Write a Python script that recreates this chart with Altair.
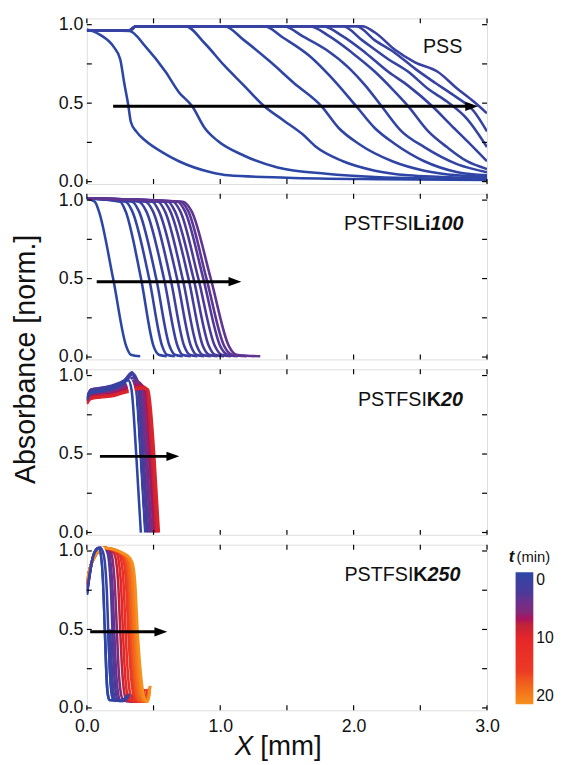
import altair as alt
import pandas as pd

# ---------------- data ----------------
# PSS panel: 11 profiles
pss_t = [0.0, 0.1, 0.2, 0.3, 0.4, 0.5, 0.6, 0.7, 0.8, 0.9, 1.0]
pss_x = [
    [0.0, 0.10, 0.20, 0.25, 0.28, 0.31, 0.33, 0.37, 0.44, 0.57, 0.69, 0.93, 1.06, 1.50, 2.20, 3.00],
    [0.0, 0.32, 0.44, 0.59, 0.69, 0.79, 0.885, 0.98, 1.18, 1.43, 1.795, 2.16, 3.0],
    [0.0, 0.32, 0.37, 0.74, 0.885, 1.03, 1.18, 1.33, 1.475, 1.62, 1.72, 1.92, 2.16, 2.41, 2.66, 3.0],
    [0.0, 0.32, 0.37, 1.03, 1.18, 1.38, 1.55, 1.76, 1.89, 2.04, 2.29, 2.53, 2.78, 3.0],
    [0.0, 0.32, 0.37, 1.33, 1.475, 1.67, 1.82, 2.02, 2.16, 2.31, 2.53, 2.78, 3.0],
    [0.0, 0.32, 0.37, 1.475, 1.62, 1.795, 1.97, 2.09, 2.21, 2.36, 2.53, 2.78, 3.0],
    [0.0, 0.32, 0.37, 1.67, 1.82, 1.99, 2.16, 2.29, 2.41, 2.56, 2.70, 2.85, 3.0],
    [0.0, 0.32, 0.37, 1.77, 1.92, 2.09, 2.26, 2.41, 2.59, 2.73, 2.85, 3.0],
    [0.0, 0.32, 0.37, 1.92, 2.065, 2.26, 2.41, 2.56, 2.70, 2.85, 3.0],
    [0.0, 0.32, 0.37, 2.02, 2.16, 2.31, 2.46, 2.61, 2.75, 2.90, 3.0],
    [0.0, 0.32, 0.37, 2.065, 2.16, 2.31, 2.46, 2.63, 2.78, 2.90, 3.0],
]
pss_y = [
    [0.97, 0.935, 0.86, 0.78, 0.63, 0.49, 0.38, 0.32, 0.26, 0.185, 0.13, 0.06, 0.04, 0.025, 0.015, 0.01],
    [0.965, 0.96, 0.86, 0.70, 0.57, 0.48, 0.34, 0.26, 0.165, 0.09, 0.05, 0.03, 0.015],
    [0.965, 0.965, 0.99, 0.99, 0.88, 0.74, 0.61, 0.48, 0.39, 0.30, 0.22, 0.13, 0.07, 0.04, 0.03, 0.02],
    [0.965, 0.965, 0.99, 0.99, 0.90, 0.76, 0.63, 0.48, 0.34, 0.24, 0.13, 0.07, 0.04, 0.03],
    [0.965, 0.965, 0.99, 0.99, 0.915, 0.80, 0.675, 0.48, 0.34, 0.24, 0.13, 0.06, 0.04],
    [0.965, 0.965, 0.99, 0.99, 0.925, 0.84, 0.72, 0.61, 0.48, 0.32, 0.22, 0.11, 0.06],
    [0.965, 0.965, 0.99, 0.99, 0.925, 0.82, 0.70, 0.59, 0.48, 0.32, 0.22, 0.13, 0.08],
    [0.965, 0.965, 0.99, 0.99, 0.925, 0.82, 0.70, 0.61, 0.48, 0.36, 0.26, 0.13],
    [0.965, 0.965, 0.99, 0.99, 0.90, 0.78, 0.70, 0.59, 0.51, 0.40, 0.22],
    [0.965, 0.965, 0.99, 0.99, 0.90, 0.82, 0.72, 0.63, 0.55, 0.45, 0.32],
    [0.965, 0.965, 0.99, 0.99, 0.95, 0.84, 0.76, 0.70, 0.59, 0.51, 0.435],
]

# PSTFSILi100 panel: 14 profiles (shared level list li_y)
li_t = [0.0, 0.3, 0.6, 0.9, 1.2, 1.5, 1.8, 2.1, 2.4, 2.7, 3.0, 3.3, 3.6, 3.9]
li_x = [
    [0.0, 0.06, 0.09, 0.197, 0.295, 0.33, 0.40],
    [0.0, 0.25, 0.29, 0.406, 0.50, 0.54, 0.60],
    [0.0, 0.29, 0.34, 0.467, 0.565, 0.60, 0.66],
    [0.0, 0.34, 0.39, 0.52, 0.62, 0.66, 0.72],
    [0.0, 0.39, 0.445, 0.578, 0.68, 0.715, 0.78],
    [0.0, 0.44, 0.495, 0.627, 0.73, 0.77, 0.83],
    [0.0, 0.49, 0.54, 0.676, 0.78, 0.82, 0.88],
    [0.0, 0.535, 0.585, 0.718, 0.825, 0.865, 0.93],
    [0.0, 0.575, 0.625, 0.762, 0.87, 0.915, 0.98],
    [0.0, 0.61, 0.66, 0.80, 0.915, 0.96, 1.03],
    [0.0, 0.645, 0.70, 0.836, 0.96, 1.01, 1.08],
    [0.0, 0.68, 0.735, 0.873, 1.00, 1.055, 1.13],
    [0.0, 0.70, 0.76, 0.897, 1.03, 1.09, 1.20],
    [0.0, 0.72, 0.785, 0.929, 1.065, 1.12, 1.30],
]
li_y = [1.01, 0.99, 0.93, 0.5, 0.07, 0.015, 0.005]

# PSTFSIK20 panel: 11 profiles
k20_t = [0, 1, 2, 3, 4, 5, 6, 7, 8, 9, 9.5]
k20_x = [
    [0.0, 0.03, 0.10, 0.20, 0.27, 0.31, 0.335, 0.37, 0.405],
    [0.0, 0.03, 0.10, 0.20, 0.28, 0.34, 0.365, 0.40, 0.435],
    [0.0, 0.03, 0.10, 0.20, 0.28, 0.35, 0.38, 0.415, 0.45],
    [0.0, 0.03, 0.10, 0.20, 0.28, 0.36, 0.39, 0.425, 0.46],
    [0.0, 0.03, 0.10, 0.20, 0.28, 0.37, 0.40, 0.44, 0.475],
    [0.0, 0.03, 0.10, 0.20, 0.28, 0.38, 0.415, 0.45, 0.485],
    [0.0, 0.03, 0.10, 0.20, 0.28, 0.39, 0.425, 0.465, 0.50],
    [0.0, 0.03, 0.10, 0.20, 0.28, 0.40, 0.435, 0.475, 0.51],
    [0.0, 0.03, 0.10, 0.20, 0.28, 0.41, 0.445, 0.485, 0.52],
    [0.0, 0.03, 0.10, 0.20, 0.28, 0.42, 0.455, 0.495, 0.53],
    [0.0, 0.03, 0.10, 0.20, 0.28, 0.43, 0.46, 0.505, 0.54],
]
k20_y = [
    [0.84, 0.89, 0.90, 0.92, 0.95, 0.97, 0.91, 0.5, 0.0],
    [0.85, 0.91, 0.92, 0.94, 0.97, 1.02, 0.95, 0.5, 0.0],
    [0.86, 0.91, 0.92, 0.93, 0.96, 1.01, 0.95, 0.5, 0.0],
    [0.85, 0.90, 0.91, 0.92, 0.95, 0.99, 0.94, 0.5, 0.0],
    [0.85, 0.89, 0.90, 0.91, 0.94, 0.97, 0.93, 0.5, 0.0],
    [0.84, 0.88, 0.89, 0.90, 0.93, 0.96, 0.93, 0.5, 0.0],
    [0.84, 0.87, 0.88, 0.89, 0.92, 0.95, 0.92, 0.5, 0.0],
    [0.83, 0.87, 0.875, 0.885, 0.91, 0.94, 0.92, 0.5, 0.0],
    [0.83, 0.86, 0.87, 0.88, 0.90, 0.93, 0.92, 0.5, 0.0],
    [0.82, 0.86, 0.865, 0.875, 0.895, 0.92, 0.91, 0.5, 0.0],
    [0.82, 0.85, 0.86, 0.87, 0.89, 0.92, 0.91, 0.5, 0.0],
]

# PSTFSIK250 panel: 16 profiles
k250_t = [0, 1, 2, 3, 4, 6, 8, 10, 12, 14, 15, 16, 17, 18, 19, 20]
k250_x = [
    [0.00, 0.02, 0.045, 0.07, 0.09, 0.105, 0.115, 0.125, 0.135, 0.145, 0.155, 0.17, 0.25, 0.285, 0.30],
    [0.00, 0.02, 0.045, 0.075, 0.10, 0.125, 0.138, 0.15, 0.16, 0.172, 0.185, 0.20, 0.27, 0.30, 0.315],
    [0.00, 0.02, 0.05, 0.08, 0.11, 0.14, 0.153, 0.165, 0.175, 0.187, 0.20, 0.215, 0.28, 0.31, 0.325],
    [0.00, 0.02, 0.05, 0.08, 0.11, 0.15, 0.166, 0.179, 0.19, 0.203, 0.217, 0.233, 0.30, 0.33, 0.345],
    [0.00, 0.02, 0.05, 0.085, 0.12, 0.165, 0.18, 0.193, 0.205, 0.218, 0.233, 0.25, 0.31, 0.34, 0.355],
    [0.00, 0.02, 0.05, 0.085, 0.12, 0.18, 0.198, 0.212, 0.225, 0.238, 0.254, 0.272, 0.33, 0.36, 0.375],
    [0.00, 0.02, 0.05, 0.09, 0.12, 0.20, 0.222, 0.237, 0.25, 0.264, 0.28, 0.298, 0.35, 0.38, 0.395],
    [0.00, 0.02, 0.05, 0.09, 0.12, 0.22, 0.242, 0.257, 0.27, 0.284, 0.30, 0.318, 0.37, 0.40, 0.415],
    [0.00, 0.02, 0.05, 0.09, 0.12, 0.235, 0.26, 0.276, 0.29, 0.305, 0.322, 0.34, 0.39, 0.42, 0.435],
    [0.00, 0.02, 0.05, 0.09, 0.12, 0.25, 0.278, 0.295, 0.31, 0.326, 0.343, 0.362, 0.41, 0.44, 0.455],
    [0.00, 0.02, 0.05, 0.09, 0.12, 0.258, 0.287, 0.305, 0.32, 0.337, 0.354, 0.374, 0.42, 0.448, 0.46],
    [0.00, 0.02, 0.05, 0.09, 0.12, 0.265, 0.296, 0.314, 0.33, 0.347, 0.365, 0.385, 0.43, 0.455, 0.465],
    [0.00, 0.02, 0.05, 0.09, 0.12, 0.275, 0.307, 0.326, 0.343, 0.36, 0.378, 0.398, 0.438, 0.46, 0.468],
    [0.00, 0.02, 0.05, 0.09, 0.12, 0.285, 0.318, 0.338, 0.355, 0.373, 0.392, 0.412, 0.445, 0.465, 0.472],
    [0.00, 0.02, 0.05, 0.09, 0.12, 0.295, 0.329, 0.35, 0.368, 0.387, 0.406, 0.426, 0.45, 0.466, 0.474],
    [0.00, 0.02, 0.05, 0.09, 0.12, 0.305, 0.34, 0.362, 0.38, 0.40, 0.42, 0.44, 0.455, 0.468, 0.475],
]
k250_y = [
    [0.72, 0.84, 0.96, 1.01, 1.02, 0.98, 0.90, 0.74, 0.50, 0.25, 0.10, 0.05, 0.045, 0.06, 0.08],
    [0.73, 0.85, 0.96, 1.01, 1.02, 0.98, 0.90, 0.74, 0.50, 0.25, 0.10, 0.05, 0.045, 0.06, 0.09],
    [0.74, 0.86, 0.96, 1.01, 1.02, 0.98, 0.90, 0.74, 0.50, 0.25, 0.10, 0.05, 0.045, 0.06, 0.09],
    [0.75, 0.86, 0.96, 1.01, 1.02, 0.99, 0.90, 0.74, 0.50, 0.25, 0.10, 0.05, 0.045, 0.06, 0.09],
    [0.76, 0.87, 0.96, 1.01, 1.02, 0.99, 0.91, 0.75, 0.50, 0.25, 0.10, 0.05, 0.045, 0.06, 0.09],
    [0.77, 0.87, 0.96, 1.00, 1.02, 0.99, 0.91, 0.75, 0.50, 0.25, 0.10, 0.05, 0.04, 0.06, 0.10],
    [0.78, 0.88, 0.96, 1.00, 1.02, 0.99, 0.92, 0.76, 0.50, 0.25, 0.10, 0.05, 0.04, 0.07, 0.11],
    [0.78, 0.88, 0.95, 1.00, 1.02, 0.99, 0.92, 0.77, 0.50, 0.25, 0.10, 0.05, 0.04, 0.07, 0.11],
    [0.79, 0.88, 0.95, 1.00, 1.02, 0.99, 0.93, 0.78, 0.50, 0.25, 0.10, 0.05, 0.04, 0.07, 0.12],
    [0.79, 0.88, 0.95, 1.00, 1.02, 0.98, 0.93, 0.78, 0.50, 0.26, 0.11, 0.05, 0.04, 0.07, 0.12],
    [0.79, 0.88, 0.95, 1.00, 1.02, 0.98, 0.93, 0.78, 0.50, 0.26, 0.11, 0.05, 0.04, 0.07, 0.12],
    [0.80, 0.88, 0.95, 1.00, 1.02, 0.98, 0.93, 0.79, 0.50, 0.26, 0.11, 0.05, 0.04, 0.07, 0.12],
    [0.80, 0.88, 0.95, 1.00, 1.02, 0.98, 0.93, 0.79, 0.50, 0.26, 0.11, 0.05, 0.04, 0.08, 0.13],
    [0.80, 0.88, 0.95, 1.00, 1.02, 0.98, 0.94, 0.80, 0.50, 0.26, 0.11, 0.06, 0.04, 0.08, 0.13],
    [0.80, 0.88, 0.95, 1.00, 1.02, 0.97, 0.93, 0.80, 0.50, 0.26, 0.11, 0.05, 0.04, 0.08, 0.14],
    [0.80, 0.88, 0.95, 1.00, 1.02, 0.97, 0.93, 0.80, 0.50, 0.26, 0.11, 0.05, 0.04, 0.08, 0.14],
]

# arrows (start, head position, level) per panel
arrow_start = [0.197, 0.074, 0.098, 0.025]
arrow_end = [2.885, 1.11, 0.645, 0.555]
arrow_y = [0.48, 0.48, 0.485, 0.485]

# axis ticks
x_ticks = [0.0, 0.5, 1.0, 1.5, 2.0, 2.5, 3.0]
y_ticks = [0.0, 0.25, 0.5, 0.75, 1.0]
x_labels = [0.0, 1.0, 2.0, 3.0]
y_labels = [0.0, 0.5, 1.0]

# colour map for t (min); the legend runs 0 (top) -> 20 (bottom)
c_stops = [0, 3, 6, 8, 10, 15, 20]
c_colors = ["#2b46a6", "#4a3a9a", "#82297a", "#c02437", "#e52628", "#ec3b24", "#f6901e"]
legend_values = [0, 10, 20]

# ---------------- chart ----------------
W, H = 406, 168
FONT = "Liberation Sans, Arial, sans-serif"
xs = alt.Scale(domain=[0, 3.0], nice=False, zero=False)
ys = alt.Scale(domain=[-0.015, 1.04], nice=False, zero=False)
# colour by negative time so that the vertical gradient shows 0 at the top
cs = alt.Scale(domain=[-v for v in reversed(c_stops)], range=list(reversed(c_colors)),
               type="linear", clamp=True)


def curves_df(ts, xl_all, yl_all):
    shared = not isinstance(yl_all[0], list)
    rows = []
    for i, t in enumerate(ts):
        xl = xl_all[i]
        yl = yl_all if shared else yl_all[i]
        for j, (x, y) in enumerate(zip(xl, yl)):
            rows.append({"curve": i, "t": t, "nt": -t, "x": x, "y": y, "o": j})
    return pd.DataFrame(rows)


def panel(df, idx, parts, show_x, legend=None, halo=None):
    if show_x:
        xax = alt.Axis(values=x_labels, format=".1f", ticks=False, domain=False, grid=False,
                       labelFontSize=18, labelPadding=8, labelFlush=False, labelOverlap=False,
                       title=None, labelColor="#111")
    else:
        xax = None
    yax = alt.Axis(values=y_labels, format=".1f", ticks=False, domain=False, grid=False,
                   labelFontSize=18, labelPadding=4, labelFlush=False, labelOverlap=False,
                   title=None, labelColor="#111")

    def X(f):
        return alt.X(f, type="quantitative", scale=xs, axis=xax)

    def Y(f):
        return alt.Y(f, type="quantitative", scale=ys, axis=yax)

    col = alt.Color("nt:Q", scale=cs, legend=legend)
    base = alt.Chart(df)
    layers = [
        base.mark_line(strokeWidth=2.6, clip=True, interpolate="monotone").encode(
            x=X("x"), y=Y("y"), color=col, detail="curve:N", order="o:Q")
    ]
    if halo is not None:
        tsel, xlo, xhi = halo
        layers.append(
            base.transform_filter(f"datum.t == {tsel} && datum.x >= {xlo} && datum.x <= {xhi}")
            .mark_line(strokeWidth=6, color="white", clip=True, interpolate="monotone")
            .encode(x=X("x"), y=Y("y"), detail="curve:N", order="o:Q"))
        layers.append(
            base.transform_filter(f"datum.t <= {tsel}")
            .mark_line(strokeWidth=2.6, clip=True, interpolate="monotone")
            .encode(x=X("x"), y=Y("y"), color=col, detail="curve:N", order="o:Q"))

    xt = alt.Chart(pd.DataFrame({"v": x_ticks}))
    yt = alt.Chart(pd.DataFrame({"v": y_ticks}))
    layers += [
        xt.mark_rule(color="black", strokeWidth=1.2).encode(x=X("v"), y=alt.value(0), y2=alt.value(5)),
        xt.mark_rule(color="black", strokeWidth=1.2).encode(x=X("v"), y=alt.value(H), y2=alt.value(H - 5)),
        yt.mark_rule(color="black", strokeWidth=1.2).encode(y=Y("v"), x=alt.value(0), x2=alt.value(5)),
        yt.mark_rule(color="black", strokeWidth=1.2).encode(y=Y("v"), x=alt.value(W), x2=alt.value(W - 5)),
    ]
    adf = pd.DataFrame({"x0": [arrow_start[idx]], "x1": [arrow_end[idx]], "y": [arrow_y[idx]]})
    ach = alt.Chart(adf)
    layers += [
        ach.mark_rule(color="black", strokeWidth=3).encode(x=X("x0"), x2="x1:Q", y=Y("y")),
        ach.mark_point(shape="M1,0L-1,-0.72L-1,0.72Z", filled=True, color="black",
                       opacity=1, size=170).encode(x=X("x1"), y=Y("y")),
    ]
    for text, px, py, size, weight, style, ang in parts:
        layers.append(
            alt.Chart(pd.DataFrame({"s": [text]})).mark_text(
                align="center" if ang else "left", baseline="alphabetic", fontSize=size,
                fontWeight=weight, fontStyle=style, font=FONT, color="#111", angle=ang).encode(
                text="s:N", x=alt.value(px), y=alt.value(py)))
    return alt.layer(*layers).properties(width=W, height=H)


df_pss = curves_df(pss_t, pss_x, pss_y)
df_li = curves_df(li_t, li_x, li_y)
df_k20 = curves_df(k20_t, k20_x, k20_y)
df_k250 = curves_df(k250_t, k250_x, k250_y)

p1 = panel(df_pss, 0, [("PSS", 341, 35, 20, "normal", "normal", 0)], False)
p2 = panel(df_li, 1, [
    ("PSTFSI", 261, 37, 20, "normal", "normal", 0),
    ("Li", 331, 37, 20, "bold", "normal", 0),
    ("100", 348.8, 37, 20, "bold", "italic", 0),
    ("Absorbance [norm.]", -53, 168, 29, "normal", "normal", 270),
], False)
p3 = panel(df_k20, 2, [
    ("PSTFSI", 275, 37, 20, "normal", "normal", 0),
    ("K", 345, 37, 20, "bold", "normal", 0),
    ("20", 359.4, 37, 20, "bold", "italic", 0),
], False, halo=(0, 0.30, 0.41))
leg = alt.Legend(title=None, orient="none", legendX=435, legendY=28, direction="vertical",
                 gradientLength=134, gradientThickness=18, gradientStrokeWidth=0,
                 values=[-v for v in legend_values], labelExpr="abs(datum.value)",
                 labelFontSize=16, labelOffset=3, labelColor="#111",
                 padding=0, labelOverlap=False)
p4 = panel(df_k250, 3, [
    ("PSTFSI", 261.3, 37, 20, "normal", "normal", 0),
    ("K", 331.3, 37, 20, "bold", "normal", 0),
    ("250", 345.7, 37, 20, "bold", "italic", 0),
    ("X", 150, 213, 28, "normal", "italic", 0),
    ("[mm]", 176, 213, 28, "normal", "normal", 0),
    ("t", 428, 18, 17, "bold", "italic", 0),
    ("(min)", 436, 18, 15, "normal", "normal", 0),
], True, legend=leg, halo=(1, 0.09, 0.17))

chart = alt.vconcat(p1, p2, p3, p4, spacing=10, bounds="flush").resolve_scale(
    color="independent").properties(
    padding={"left": 3, "top": 1, "right": 0, "bottom": 0}
).configure_view(stroke="#111", strokeWidth=1.3).configure(font=FONT)

chart.save("out.html", embed_options={"renderer": "svg", "actions": False})
